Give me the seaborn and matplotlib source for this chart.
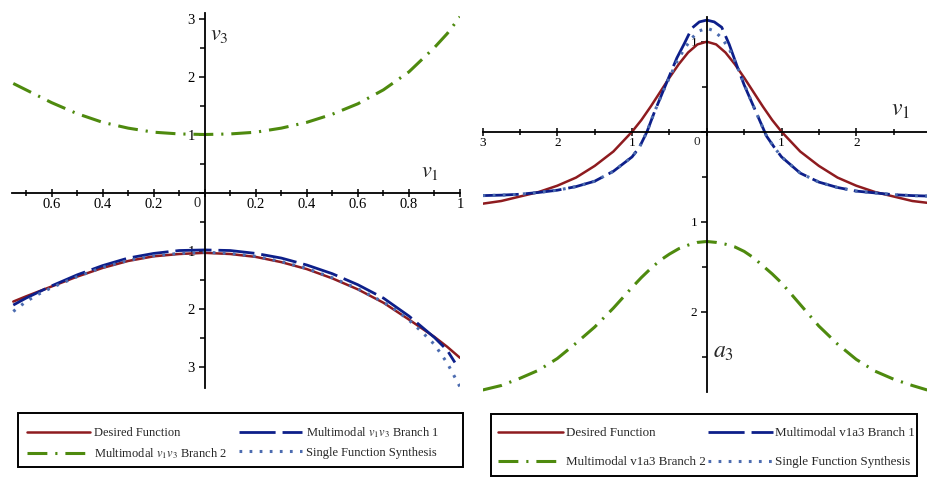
import numpy as np
import pandas as pd
import matplotlib
matplotlib.use("Agg")
import matplotlib.pyplot as plt
import matplotlib.ticker as mticker
import matplotlib.transforms as mtrans
from matplotlib.patches import Rectangle
import seaborn as sns

sns.set_style("white")
plt.rcParams['font.family'] = ['Liberation Serif', 'DejaVu Serif']
plt.rcParams['mathtext.fontset'] = 'stix'

# ---------------- data: left panel (v1 vs v3) ----------------
left_x = [-0.75, -0.7, -0.6, -0.5, -0.4, -0.3, -0.2, -0.1, 0.0, 0.1,
          0.2, 0.3, 0.4, 0.5, 0.6, 0.7, 0.8, 0.9, 0.95, 1.0]
left_desired = [-1.88, -1.79, -1.62, -1.45, -1.30, -1.18, -1.10, -1.06, -1.04, -1.06,
                -1.11, -1.20, -1.32, -1.48, -1.67, -1.90, -2.19, -2.49, -2.66, -2.85]
left_branch2 = [1.88, 1.77, 1.55, 1.36, 1.21, 1.11, 1.04, 1.01, 1.00, 1.01,
                1.04, 1.11, 1.21, 1.35, 1.53, 1.77, 2.08, 2.50, 2.74, 3.03]
left_b1_x = [-0.75, -0.7, -0.6, -0.5, -0.4, -0.3, -0.2, -0.1, 0.0, 0.1,
             0.2, 0.3, 0.4, 0.5, 0.6, 0.7, 0.8, 0.9, 0.95, 0.98]
left_branch1 = [-1.94, -1.82, -1.61, -1.42, -1.26, -1.13, -1.05, -1.00, -0.99, -1.00,
                -1.05, -1.13, -1.25, -1.40, -1.59, -1.82, -2.13, -2.50, -2.72, -2.93]
left_s_x = [-0.75, -0.7, -0.65, -0.6, -0.5, -0.4, -0.3, -0.2, -0.1, 0.0, 0.1,
            0.2, 0.3, 0.4, 0.5, 0.6, 0.7, 0.75, 0.8, 0.85, 0.9, 0.95, 1.0]
left_single = [-2.05, -1.88, -1.75, -1.64, -1.45, -1.29, -1.17, -1.09, -1.05, -1.03, -1.05,
               -1.10, -1.19, -1.31, -1.47, -1.66, -1.89, -2.03, -2.20, -2.40, -2.62, -2.94, -3.35]

# ---------------- data: right panel (v1 vs a3) ----------------
right_x = [-3.0, -2.75, -2.5, -2.25, -2.0, -1.75, -1.5, -1.25, -1.0, -0.875, -0.75,
           -0.625, -0.5, -0.375, -0.25, -0.125, 0.0, 0.125, 0.25, 0.375, 0.5, 0.625,
           0.75, 0.875, 1.0, 1.25, 1.5, 1.75, 2.0, 2.25, 2.5, 2.75, 2.95]
right_desired = [-0.80, -0.77, -0.72, -0.67, -0.60, -0.51, -0.38, -0.22, 0.00, 0.13, 0.28,
                 0.44, 0.60, 0.75, 0.88, 0.97, 1.00, 0.97, 0.88, 0.75, 0.60, 0.44,
                 0.28, 0.13, 0.00, -0.22, -0.38, -0.51, -0.60, -0.67, -0.72, -0.77, -0.79]
right_branch2 = [-2.87, -2.82, -2.74, -2.65, -2.52, -2.35, -2.17, -1.96, -1.73, -1.62, -1.52,
                 -1.43, -1.36, -1.30, -1.26, -1.23, -1.22, -1.23, -1.25, -1.28, -1.33, -1.40,
                 -1.49, -1.58, -1.68, -1.92, -2.16, -2.36, -2.53, -2.66, -2.75, -2.82, -2.87]
right_b_x = [-3.0, -2.75, -2.5, -2.25, -2.0, -1.75, -1.5, -1.25, -1.0, -0.9, -0.8, -0.7,
             -0.6, -0.5, -0.4, -0.3, -0.2, -0.1, 0.0, 0.1, 0.2, 0.3, 0.4, 0.5, 0.6,
             0.7, 0.8, 0.9, 1.0, 1.25, 1.5, 1.75, 2.0, 2.25, 2.5, 2.75, 2.95]
right_branch1 = [-0.71, -0.705, -0.695, -0.675, -0.65, -0.61, -0.55, -0.44, -0.28, -0.17, 0.00, 0.22,
                 0.42, 0.62, 0.82, 0.98, 1.15, 1.22, 1.24, 1.22, 1.16, 0.97, 0.74, 0.52, 0.33,
                 0.14, -0.05, -0.17, -0.28, -0.46, -0.56, -0.62, -0.66, -0.68, -0.70, -0.71, -0.715]
right_single = [-0.71, -0.705, -0.695, -0.675, -0.65, -0.61, -0.55, -0.44, -0.28, -0.17, 0.00, 0.22,
                0.42, 0.60, 0.78, 0.92, 1.04, 1.12, 1.15, 1.12, 1.04, 0.92, 0.74, 0.53, 0.33,
                0.14, -0.05, -0.17, -0.28, -0.46, -0.56, -0.62, -0.66, -0.68, -0.70, -0.71, -0.715]

left_labels = ["Desired Function", r"Multimodal $v_1v_3$ Branch 1",
               r"Multimodal $v_1v_3$ Branch 2", "Single Function Synthesis"]
right_labels = ["Desired Function", "Multimodal v1a3 Branch 1",
                "Multimodal v1a3 Branch 2", "Single Function Synthesis"]

RED = "#8e1b1f"
NAVY = "#0d1f8a"
GREEN = "#4e8a0e"
DOTBLUE = "#4c6cb0"

sty_red = dict(color=RED, linewidth=1.8, linestyle='-')
sty_blue = dict(color=NAVY, linewidth=2.0, linestyle=(0, (13, 2.5)))
sty_green = dict(color=GREEN, linewidth=2.2, linestyle=(0, (6.5, 2.6, 0.7, 2.6)))
sty_dot = dict(color=DOTBLUE, linewidth=2.2, linestyle=(0, (0.9, 2.4)))

W, H = 927, 479
fig = plt.figure(figsize=(W / 100, H / 100), dpi=100)


def px_axes(x0, x1, y0, y1):
    return fig.add_axes([x0 / W, (H - y1) / H, (x1 - x0) / W, (y1 - y0) / H])


def absfmt(v, pos):
    v = round(v, 6)
    if abs(v) < 1e-9:
        return ""
    return "%g" % abs(v)


def style_axes(ax, xmaj, xmin, ymaj, ymin, fs):
    for s in ['top', 'right']:
        ax.spines[s].set_visible(False)
    for s in ['left', 'bottom']:
        ax.spines[s].set_position('zero')
        ax.spines[s].set_linewidth(1.3)
        ax.spines[s].set_color('black')
    ax.xaxis.set_major_locator(mticker.MultipleLocator(xmaj))
    ax.xaxis.set_minor_locator(mticker.MultipleLocator(xmin))
    ax.yaxis.set_major_locator(mticker.MultipleLocator(ymaj))
    ax.yaxis.set_minor_locator(mticker.MultipleLocator(ymin))
    ax.xaxis.set_major_formatter(mticker.FuncFormatter(absfmt))
    ax.yaxis.set_major_formatter(mticker.FuncFormatter(absfmt))
    ax.tick_params(which='both', bottom=True, left=True, top=False, right=False,
                   color='black')
    ax.tick_params(axis='x', which='major', direction='inout', length=6, width=1.1,
                   labelsize=fs, pad=1, colors='black')
    ax.tick_params(axis='x', which='minor', direction='inout', length=5, width=1.1)
    ax.tick_params(axis='y', which='major', direction='out', length=4, width=1.1,
                   labelsize=fs, pad=3, colors='black')
    ax.tick_params(axis='y', which='minor', direction='out', length=3.5, width=1.1)
    ax.set_xlabel("")
    ax.set_ylabel("")
    ax.patch.set_alpha(0)


def add_legend(lines, labels, box, anchor, lsp, colsp, fs, tpad):
    x0, x1, y0, y1 = box
    fig.patches.append(Rectangle((x0 / W, (H - y1) / H), (x1 - x0) / W, (y1 - y0) / H,
                                 transform=fig.transFigure, fill=False,
                                 edgecolor='black', linewidth=1.4, zorder=5))
    handles = [lines[0], lines[2], lines[1], lines[3]]
    labs = [labels[0], labels[2], labels[1], labels[3]]
    ax_, ay_ = anchor
    leg = fig.legend(handles, labs, loc='upper left',
                     bbox_to_anchor=(ax_ / W, (H - ay_) / H),
                     ncol=2, frameon=False, fontsize=fs, handlelength=5.0,
                     handletextpad=tpad, labelspacing=lsp, borderpad=0,
                     borderaxespad=0, columnspacing=colsp)
    return leg


# ---------------- left panel ----------------
axL = px_axes(12, 460, 12.7, 388)
sns.lineplot(x=left_x, y=left_desired, ax=axL, errorbar=None, **sty_red)
sns.lineplot(x=left_b1_x, y=left_branch1, ax=axL, errorbar=None, **sty_blue)
sns.lineplot(x=left_x, y=left_branch2, ax=axL, errorbar=None, **sty_green)
sns.lineplot(x=left_s_x, y=left_single, ax=axL, errorbar=None, **sty_dot)
axL.set_xlim(-0.755, 1.0)
axL.set_ylim(-3.37, 3.10)
style_axes(axL, 0.2, 0.1, 1.0, 0.5, 10.5)
axL.text(0, 0, "0", fontsize=10.5, ha='center', va='center',
         transform=mtrans.offset_copy(axL.transData, fig=fig, x=-8, y=-11, units='dots'))
axL.text(0.059, 2.70, r"$v_3$", fontsize=16, ha='center', va='center')
axL.text(0.882, 0.34, r"$v_1$", fontsize=16, ha='center', va='center')

# ---------------- right panel ----------------
axR = px_axes(482.6, 926.5, 17.4, 391.8)
sns.lineplot(x=right_x, y=right_desired, ax=axR, errorbar=None, **sty_red)
sns.lineplot(x=right_b_x, y=right_branch1, ax=axR, errorbar=None, **sty_blue)
sns.lineplot(x=right_x, y=right_branch2, ax=axR, errorbar=None, **sty_green)
sns.lineplot(x=right_b_x, y=right_single, ax=axR, errorbar=None, **sty_dot)
axR.set_xlim(-3.0, 2.94)
axR.set_ylim(-2.89, 1.27)
style_axes(axR, 1.0, 0.5, 1.0, 0.5, 9.5)
axR.text(0, 0, "0", fontsize=9.5, ha='center', va='center',
         transform=mtrans.offset_copy(axR.transData, fig=fig, x=-10, y=-10, units='dots'))
axR.text(2.59, 0.24, r"$v_1$", fontsize=17, ha='center', va='center')
axR.text(0.23, -2.45, r"$a_3$", fontsize=17, ha='center', va='center')

# ---------------- legends ----------------
add_legend(axL.get_lines(), left_labels, (18, 463, 413, 467), (27, 425), 0.55, 1.0, 9.0, 0.33)
add_legend(axR.get_lines(), right_labels, (491, 917, 414, 476), (498, 427), 1.3, 0.15, 9.4, 0.2)

fig.savefig("out.png", dpi=100, facecolor='white')
